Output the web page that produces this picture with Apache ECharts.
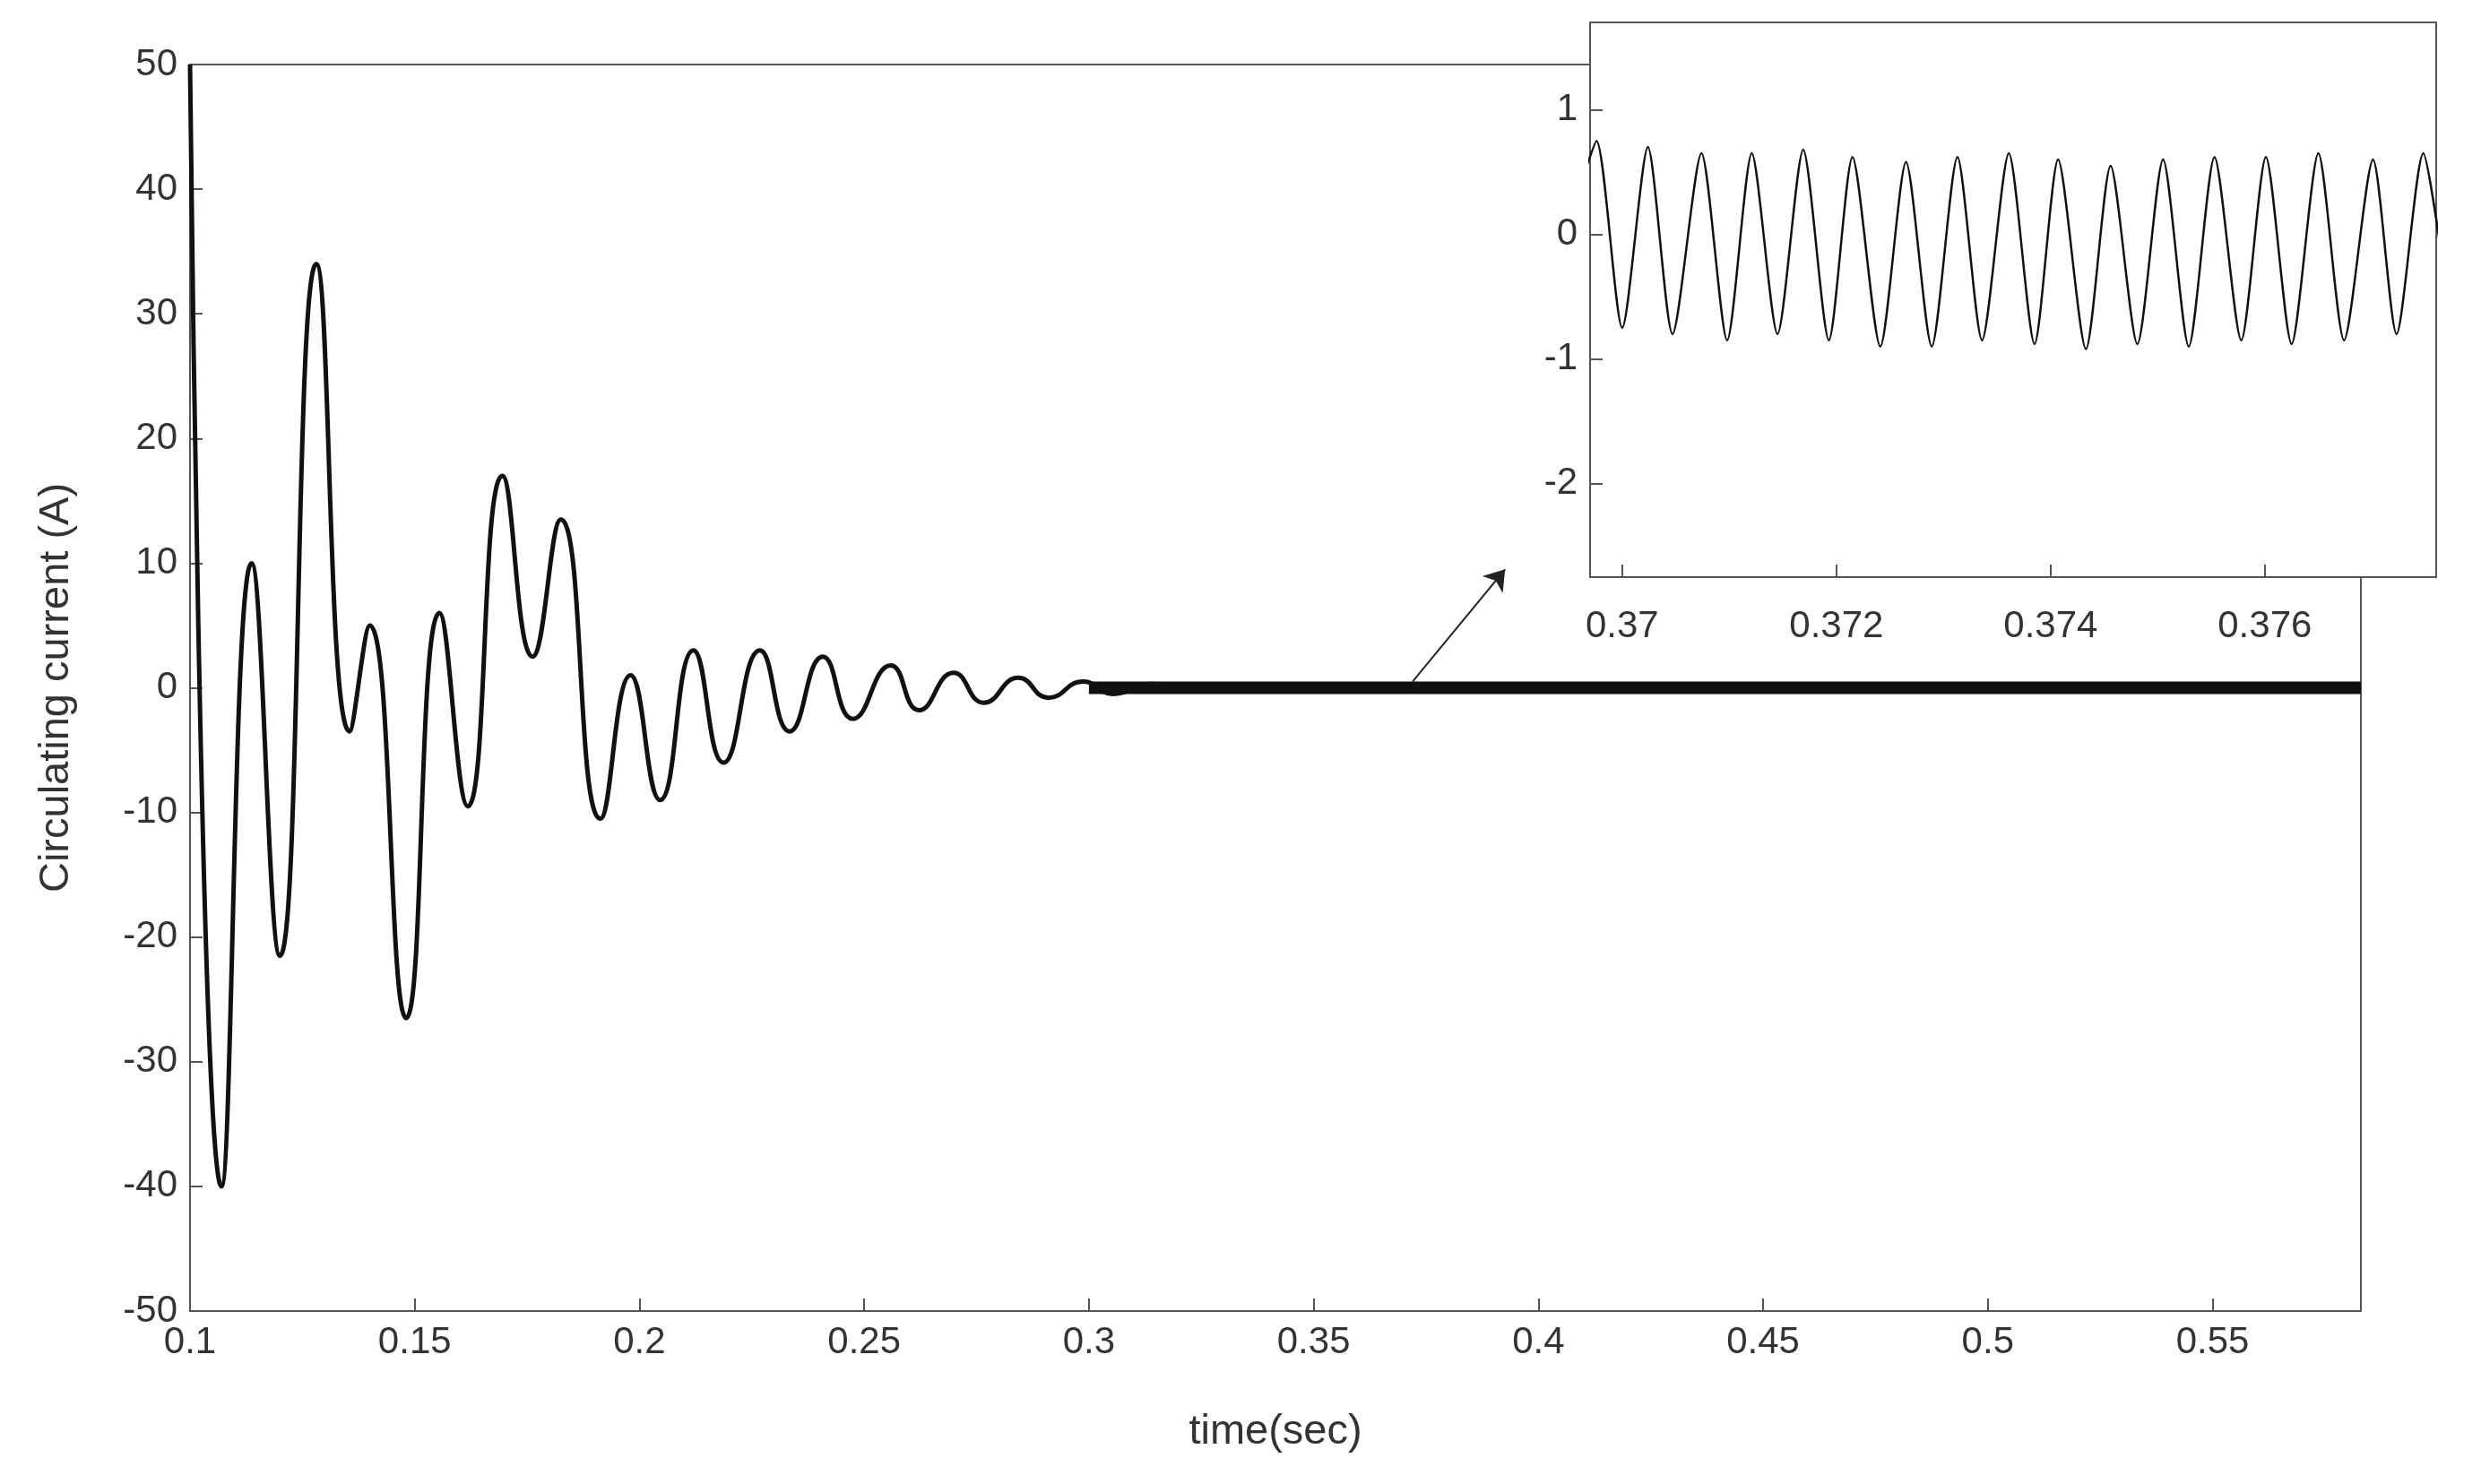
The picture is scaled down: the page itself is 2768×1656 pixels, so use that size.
<!DOCTYPE html>
<html>
<head>
<meta charset="utf-8">
<script src="https://cdn.jsdelivr.net/npm/echarts@6/dist/echarts.min.js"></script>
<style>html,body{margin:0;background:#fff}#c{width:2768px;height:1656px}</style>
</head>
<body>
<div id="c"></div>
<script>
// main trace: extrema of the slow oscillation [time, A]
const mainTimes = [0.1, 0.1070, 0.1137, 0.1200, 0.1281, 0.1355, 0.1400, 0.1481, 0.1555, 0.1618, 0.1695, 0.1762, 0.1825, 0.1913, 0.1980, 0.2046, 0.2120, 0.2187, 0.2268, 0.2334, 0.2408, 0.2475, 0.2559, 0.2622, 0.2699, 0.2766, 0.2843, 0.2910, 0.2987, 0.3054, 0.3135, 0.3300, 0.583];
const mainValues = [50, -40, 10, -21.5, 34, -3.5, 5, -26.5, 6, -9.5, 17, 2.5, 13.5, -10.5, 1, -9, 3, -6, 3, -3.5, 2.5, -2.5, 1.8, -1.8, 1.2, -1.2, 0.8, -0.8, 0.5, -0.5, 0.3, 0, 0];
// thick ripple band in steady state
const rippleTimes = [0.3, 0.583];
const rippleValues = [0, 0];
// zoomed window
const zoomTimes = [0.36967, 0.36976, 0.37000, 0.37024, 0.37047, 0.37074, 0.37098, 0.37121, 0.37145, 0.37169, 0.37193, 0.37215, 0.37241, 0.37265, 0.37289, 0.37313, 0.37336, 0.37361, 0.37385, 0.37407, 0.37433, 0.37456, 0.37481, 0.37505, 0.37529, 0.37553, 0.37578, 0.37601, 0.37625, 0.37650, 0.37674, 0.37701, 0.37723, 0.37748, 0.37763];
const zoomValues = [0.55, 0.75, -0.75, 0.7, -0.8, 0.65, -0.85, 0.65, -0.8, 0.68, -0.85, 0.62, -0.9, 0.58, -0.9, 0.62, -0.85, 0.65, -0.88, 0.6, -0.92, 0.55, -0.88, 0.6, -0.9, 0.62, -0.85, 0.62, -0.88, 0.65, -0.85, 0.6, -0.8, 0.65, -0.05];
const zoomXTicks = [0.37, 0.372, 0.374, 0.376];
const zoomYTicks = [-2, -1, 0, 1];
const arrowFrom = [0.372, 0.5];
const arrowTo = [0.3926, 9.5];

const pair = (a, b) => a.map((t, i) => [t, b[i]]);
const txt = '#333';
const ax = '#555';
const font = 'Liberation Sans, Arial, sans-serif';

const chart = echarts.init(document.getElementById('c'));
chart.setOption({
  backgroundColor: '#fff',
  animation: false,
  grid: [
    {left: 212, right: 134, top: 72, bottom: 193, show: true, borderColor: ax, borderWidth: 2},
    {left: 1774, right: 50, top: 25, bottom: 1012, show: true, borderColor: ax, borderWidth: 2, backgroundColor: '#fff', z: 10}
  ],
  xAxis: [
    {type: 'value', gridIndex: 0, min: 0.1, max: 0.583, interval: 0.05,
     name: 'time(sec)', nameLocation: 'middle', nameGap: 112,
     nameTextStyle: {fontSize: 47, color: txt, fontFamily: font},
     axisLine: {onZero: false, lineStyle: {color: ax, width: 2}},
     axisTick: {inside: true, length: 14, lineStyle: {color: ax, width: 2}},
     axisLabel: {fontSize: 42, color: txt, fontFamily: font, margin: 14, showMaxLabel: false},
     splitLine: {show: false}},
    {type: 'value', gridIndex: 1, min: 0.3697, max: 0.3776, z: 11,
     axisLine: {onZero: false, lineStyle: {color: ax, width: 2}},
     axisTick: {inside: true, length: 14, customValues: zoomXTicks, lineStyle: {color: ax, width: 2}},
     axisLabel: {fontSize: 42, color: txt, fontFamily: font, margin: 34, customValues: zoomXTicks},
     splitLine: {show: false}}
  ],
  yAxis: [
    {type: 'value', gridIndex: 0, min: -50, max: 50, interval: 10,
     name: 'Circulating current (A)', nameLocation: 'middle', nameGap: 125,
     nameTextStyle: {fontSize: 47, color: txt, fontFamily: font},
     axisLine: {onZero: false, lineStyle: {color: ax, width: 2}},
     axisTick: {inside: true, length: 14, lineStyle: {color: ax, width: 2}},
     axisLabel: {fontSize: 42, color: txt, fontFamily: font, margin: 14},
     splitLine: {show: false}},
    {type: 'value', gridIndex: 1, min: -2.75, max: 1.7, z: 11,
     axisLine: {onZero: false, lineStyle: {color: ax, width: 2}},
     axisTick: {inside: true, length: 14, customValues: zoomYTicks, lineStyle: {color: ax, width: 2}},
     axisLabel: {fontSize: 42, color: txt, fontFamily: font, margin: 14, customValues: zoomYTicks},
     splitLine: {show: false}}
  ],
  series: [
    {type: 'line', xAxisIndex: 0, yAxisIndex: 0, data: pair(mainTimes, mainValues),
     smooth: 0.5, showSymbol: false, lineStyle: {color: '#111', width: 5},
     markLine: {silent: true, symbol: ['none', 'arrow'], symbolSize: 22, label: {show: false},
       lineStyle: {color: '#222', width: 2, type: 'solid'},
       data: [[{coord: arrowFrom}, {coord: arrowTo}]]}},
    {type: 'line', xAxisIndex: 0, yAxisIndex: 0, data: pair(rippleTimes, rippleValues),
     showSymbol: false, lineStyle: {color: '#111', width: 14}},
    {type: 'line', xAxisIndex: 1, yAxisIndex: 1, data: pair(zoomTimes, zoomValues), z: 12,
     smooth: 0.25, showSymbol: false, lineStyle: {color: '#111', width: 2.5}}
  ]
});
</script>
</body>
</html>
